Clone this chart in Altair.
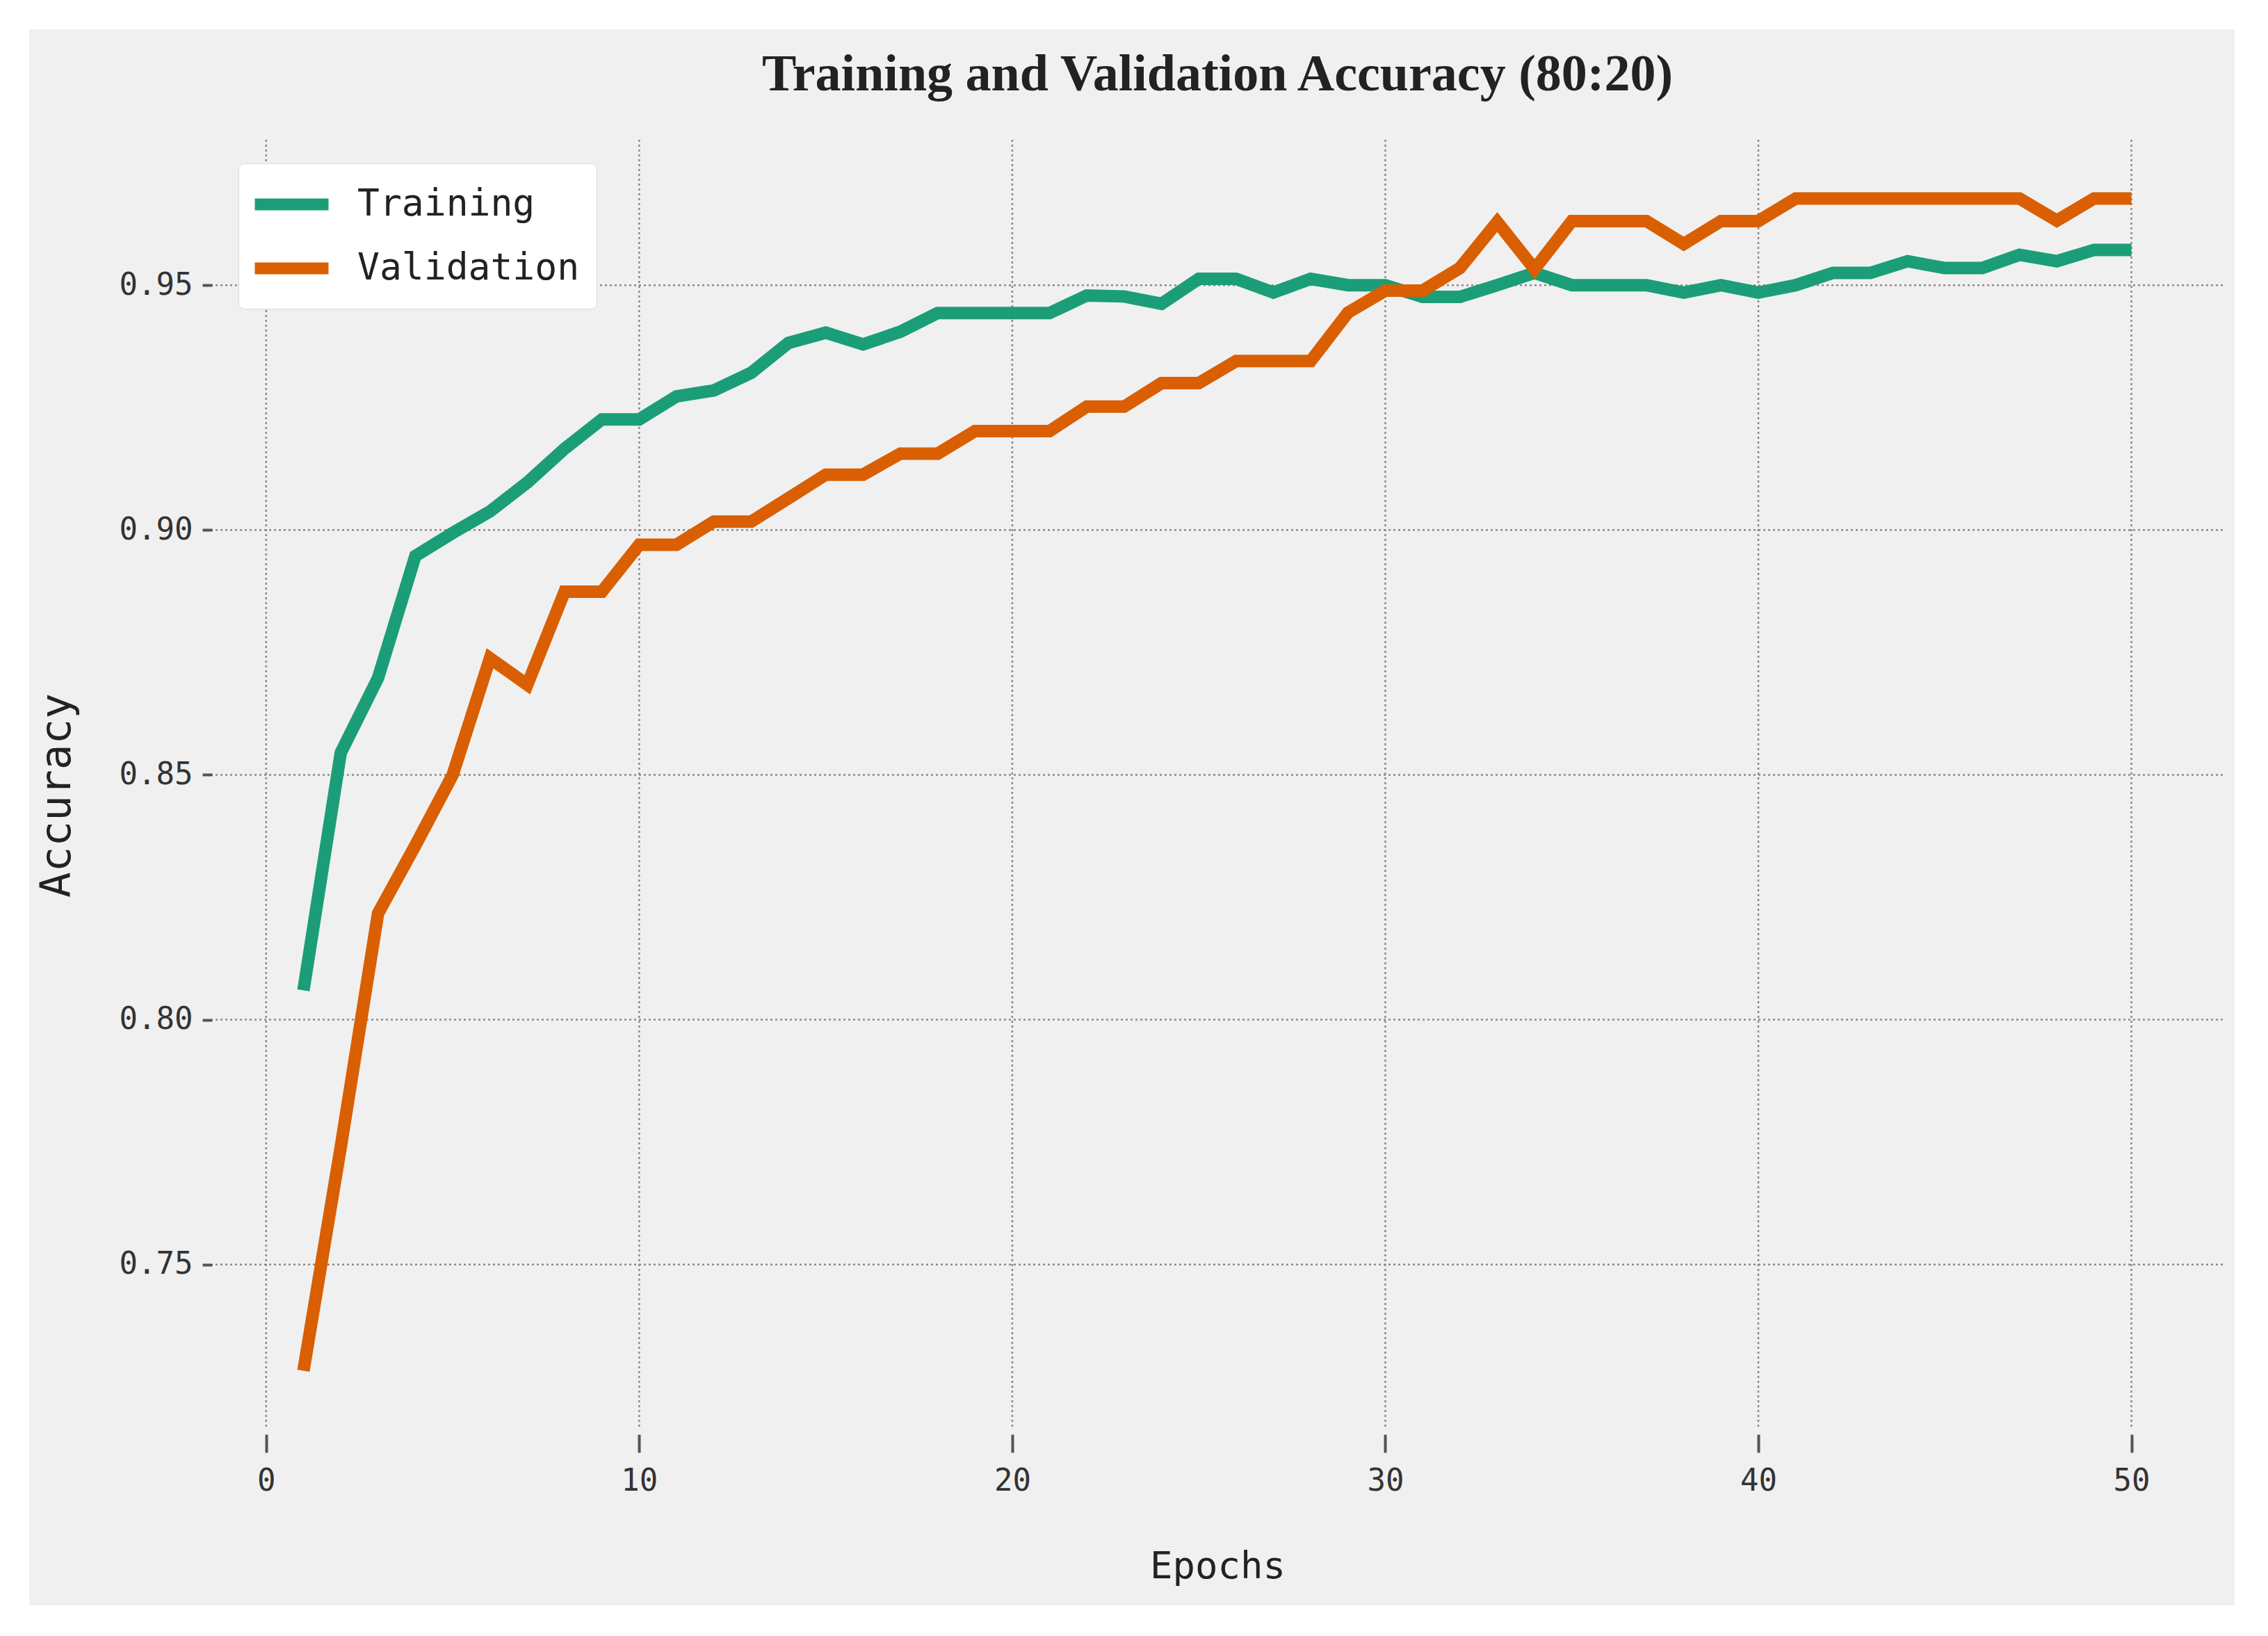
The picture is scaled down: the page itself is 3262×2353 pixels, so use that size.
import altair as alt
import pandas as pd

epochs = [1, 2, 3, 4, 5, 6, 7, 8, 9, 10,
          11, 12, 13, 14, 15, 16, 17, 18, 19, 20,
          21, 22, 23, 24, 25, 26, 27, 28, 29, 30,
          31, 32, 33, 34, 35, 36, 37, 38, 39, 40,
          41, 42, 43, 44, 45, 46, 47, 48, 49, 50]

training = [0.8060, 0.8545, 0.8698, 0.8947, 0.8994, 0.9038, 0.9097, 0.9166, 0.9226, 0.9226,
            0.9273, 0.9285, 0.9321, 0.9382, 0.9403, 0.9379, 0.9405, 0.9443, 0.9443, 0.9443,
            0.9443, 0.9479, 0.9477, 0.9462, 0.9513, 0.9513, 0.9485, 0.9513, 0.9500, 0.9500,
            0.9476, 0.9476, 0.9500, 0.9525, 0.9500, 0.9500, 0.9500, 0.9485, 0.9500, 0.9485,
            0.9500, 0.9525, 0.9525, 0.9549, 0.9535, 0.9535, 0.9562, 0.9549, 0.9572, 0.9572]

validation = [0.7283, 0.7740, 0.8217, 0.8356, 0.8500, 0.8738, 0.8684, 0.8874, 0.8874, 0.8970,
              0.8970, 0.9017, 0.9017, 0.9065, 0.9113, 0.9113, 0.9156, 0.9156, 0.9202, 0.9202,
              0.9202, 0.9252, 0.9252, 0.9300, 0.9300, 0.9345, 0.9345, 0.9345, 0.9444, 0.9489,
              0.9489, 0.9535, 0.9629, 0.9533, 0.9631, 0.9631, 0.9631, 0.9584, 0.9631, 0.9631,
              0.9677, 0.9677, 0.9677, 0.9677, 0.9677, 0.9677, 0.9677, 0.9632, 0.9677, 0.9677]

series_names = ["Training", "Validation"]
series_colors = ["#1b9e77", "#d95f02"]
x_ticks = [0, 10, 20, 30, 40, 50]
y_ticks = [0.75, 0.80, 0.85, 0.90, 0.95]

rows = []
for e, t, v in zip(epochs, training, validation):
    rows.append({"Epoch": e, "Accuracy": t, "Series": "Training"})
    rows.append({"Epoch": e, "Accuracy": v, "Series": "Validation"})
df = pd.DataFrame(rows)

W = 2892
H = 1855
MONO = "DejaVu Sans Mono"
GRID = dict(strokeDash=[3, 4], color="#8a8a8a", strokeWidth=2.5)

x_scale = alt.Scale(domain=[-1.45, 52.45], nice=False, zero=False)
y_scale = alt.Scale(domain=[0.7163, 0.9797], nice=False, zero=False)

# light grey figure panel inside a white page border
bg = alt.Chart(alt.Data(values=[{}])).mark_rect(color="#f0f0f0").encode(
    x=alt.value(-263), x2=alt.value(2909), y=alt.value(-159), y2=alt.value(2108)
)

# dotted grid lines from the tick arrays, below the data lines
grid_x = alt.Chart(pd.DataFrame({"Epoch": x_ticks})).mark_rule(**GRID).encode(
    x=alt.X("Epoch:Q", scale=x_scale)
)
grid_y = alt.Chart(pd.DataFrame({"Accuracy": y_ticks})).mark_rule(**GRID).encode(
    y=alt.Y("Accuracy:Q", scale=y_scale)
)

lines = alt.Chart(df).mark_line(strokeWidth=18, strokeJoin="miter").encode(
    x=alt.X(
        "Epoch:Q",
        scale=x_scale,
        axis=alt.Axis(
            values=x_ticks, title="Epochs", format="d", zindex=1,
            labelFont=MONO, labelFontSize=44, labelColor="#333333",
            tickColor="#555555", tickWidth=4, tickSize=26, offset=7, labelPadding=19,
            domain=False, grid=False,
            titleFont=MONO, titleFontSize=54, titleFontWeight="normal",
            titleColor="#222222", titlePadding=74,
        ),
    ),
    y=alt.Y(
        "Accuracy:Q",
        scale=y_scale,
        axis=alt.Axis(
            values=y_ticks, title="Accuracy", format=".2f", zindex=1,
            labelFont=MONO, labelFontSize=44, labelColor="#333333",
            tickColor="#555555", tickWidth=4, tickSize=14, labelPadding=14,
            domain=False, grid=False,
            titleFont=MONO, titleFontSize=61, titleFontWeight="normal",
            titleColor="#222222", titlePadding=58, titleY=H / 2 + 15,
        ),
    ),
    color=alt.Color(
        "Series:N",
        scale=alt.Scale(domain=series_names, range=series_colors),
        legend=alt.Legend(
            title=None, orient="none", legendX=38, legendY=34, zindex=2,
            symbolType="M-1,0H3", symbolSize=2809, symbolStrokeWidth=17,
            symbolOffset=-9,
            labelFont=MONO, labelFontSize=53, labelColor="#222222", labelLimit=0,
            labelOffset=86, rowPadding=23, padding=24,
            fillColor="#ffffff", strokeColor="#d9d9d9", cornerRadius=8,
        ),
    ),
)

chart = alt.layer(bg, grid_x, grid_y, lines).properties(
    width=W,
    height=H,
    padding=34,
    background="#ffffff",
    title=alt.TitleParams(
        text="Training and Validation Accuracy (80:20)",
        font="Liberation Serif", fontWeight="bold", fontSize=74,
        color="#222222", offset=-104, anchor="middle", frame="group",
    ),
).configure_view(strokeWidth=0)

chart.save("out.html", embed_options={"renderer": "svg", "actions": False})
